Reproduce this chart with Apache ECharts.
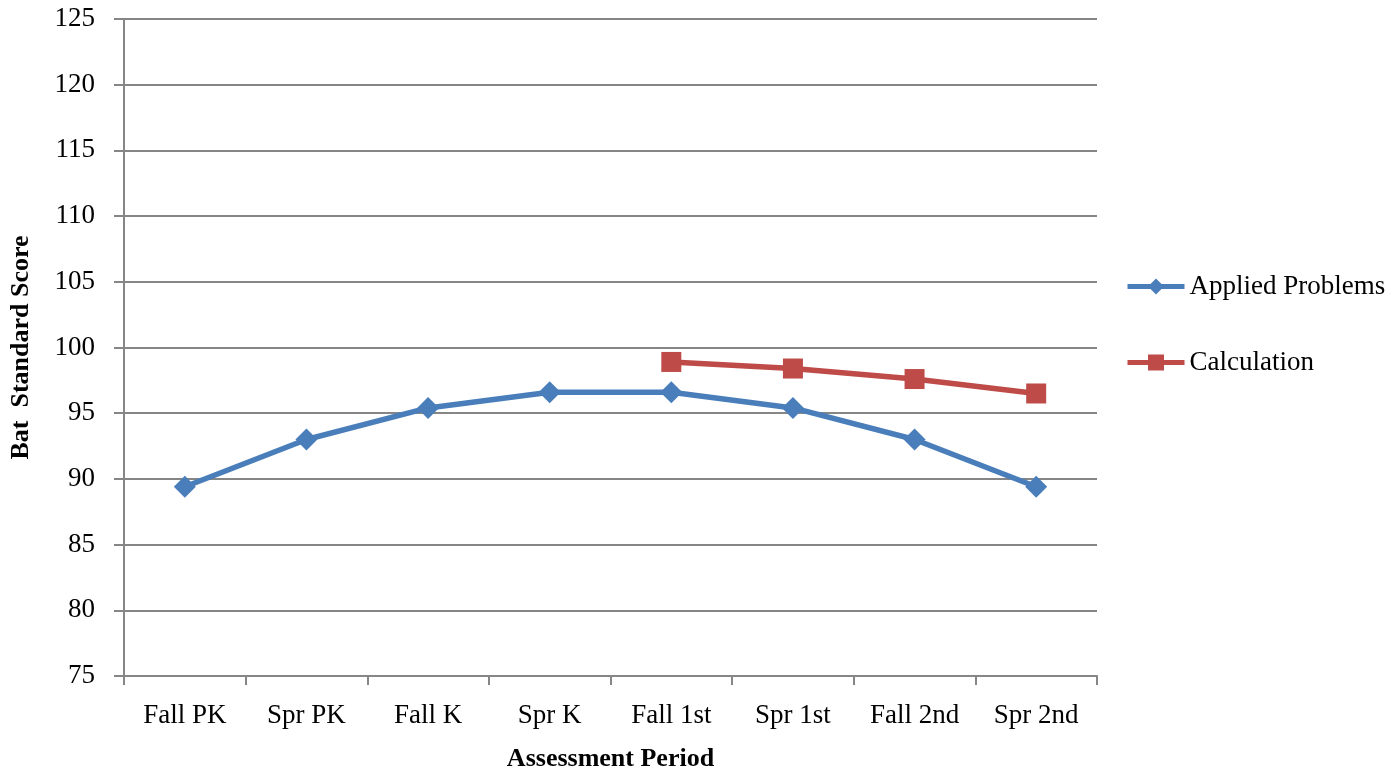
<!DOCTYPE html>
<html>
<head>
<meta charset="utf-8">
<script src="https://cdn.jsdelivr.net/npm/echarts@6/dist/echarts.min.js"></script>
<style>html,body{margin:0;padding:0;background:#fff}#c{width:1398px;height:772px}</style>
</head>
<body>
<div id="c"></div>
<script>
const categories = ['Fall PK','Spr PK','Fall K','Spr K','Fall 1st','Spr 1st','Fall 2nd','Spr 2nd'];
const appliedProblems = [89.4, 93.0, 95.4, 96.6, 96.6, 95.4, 93.0, 89.4];
const calculation = [null, null, null, null, 98.9, 98.4, 97.6, 96.5];
const yTicks = {min: 75, max: 125, interval: 5};

const FONT = '"Liberation Serif", "DejaVu Serif", serif';
const axisGray = '#868686';
const chart = echarts.init(document.getElementById('c'), null, {renderer: 'canvas'});
chart.setOption({
  animation: false,
  backgroundColor: '#ffffff',
  textStyle: {fontFamily: FONT},
  grid: {left: 124, right: 301, top: 19, bottom: 96, containLabel: false, outerBoundsMode: 'none'},
  legend: {
    orient: 'vertical', left: 1120, top: 268,
    itemWidth: 57, itemHeight: 20, itemGap: 49,
    lineStyle: {width: 5},
    textStyle: {fontFamily: FONT, fontSize: 27, color: '#000'},
    data: ['Applied Problems', 'Calculation']
  },
  xAxis: {
    type: 'category', data: categories, boundaryGap: true,
    name: 'Assessment Period', nameLocation: 'middle', nameGap: 70,
    nameTextStyle: {fontFamily: FONT, fontSize: 26, fontWeight: 'bold', color: '#000'},
    axisLine: {lineStyle: {color: axisGray, width: 2}},
    axisTick: {show: true, length: 9, alignWithLabel: false, lineStyle: {color: axisGray, width: 2}},
    axisLabel: {fontFamily: FONT, fontSize: 27, color: '#000', margin: 26, interval: 0},
    splitLine: {show: false}
  },
  yAxis: {
    type: 'value', min: yTicks.min, max: yTicks.max, interval: yTicks.interval,
    name: 'Bat  Standard Score', nameLocation: 'middle', nameGap: 90, nameRotate: 90,
    nameTextStyle: {fontFamily: FONT, fontSize: 26, fontWeight: 'bold', color: '#000'},
    axisLine: {show: true, lineStyle: {color: axisGray, width: 2}},
    axisTick: {show: true, length: 10, lineStyle: {color: axisGray, width: 2}},
    axisLabel: {fontFamily: FONT, fontSize: 27, color: '#000', margin: 29},
    splitLine: {show: true, lineStyle: {color: axisGray, width: 2}}
  },
  series: [
    {
      name: 'Applied Problems', type: 'line', data: appliedProblems,
      symbol: 'diamond', symbolSize: 22,
      lineStyle: {color: '#4a7ebb', width: 5.5},
      itemStyle: {color: '#4a7ebb'},
      z: 3
    },
    {
      name: 'Calculation', type: 'line', data: calculation,
      symbol: 'rect', symbolSize: 20,
      lineStyle: {color: '#be4b48', width: 5.5},
      itemStyle: {color: '#be4b48'},
      connectNulls: false,
      z: 4
    }
  ]
});
</script>
</body>
</html>
